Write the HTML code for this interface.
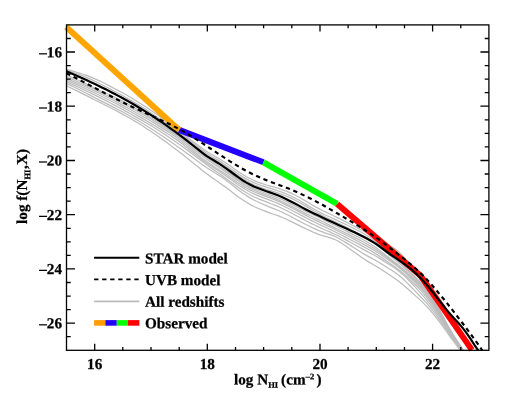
<!DOCTYPE html>
<html><head><meta charset="utf-8"><title>Chart</title>
<style>html,body{margin:0;padding:0;background:#fff;}svg{display:block;will-change:transform;}</style>
</head><body>
<svg width="525" height="400" viewBox="0 0 525 400">
<rect width="525" height="400" fill="#fff"/>
<defs><clipPath id="c"><rect x="66.5" y="24.9" width="422.4" height="325.6"/></clipPath></defs>
<g clip-path="url(#c)">
<polyline points="66.4,69.3 70.4,70.4 74.4,71.6 78.4,72.8 82.4,74.0 86.4,75.4 90.4,76.9 94.4,78.6 98.4,80.4 102.4,82.3 106.4,84.3 110.4,86.4 114.4,88.5 118.4,90.6 122.4,92.8 126.4,95.0 130.4,97.3 134.4,99.7 138.4,102.2 142.4,104.7 146.4,107.3 150.4,110.0 154.4,112.8 158.4,115.6 162.4,118.5 166.4,121.5 170.4,124.5 174.4,127.5 178.4,130.5 182.4,133.5 186.4,136.5 190.4,139.6 194.4,142.6 198.4,145.6 202.4,148.5 206.4,151.2 210.4,153.7 214.4,156.0 218.4,158.3 222.4,160.7 226.4,163.3 230.4,166.1 234.4,168.9 238.4,171.7 242.4,174.3 246.4,176.7 250.4,178.8 254.4,180.7 258.4,182.3 262.4,183.7 266.4,185.0 270.4,186.1 274.4,187.2 278.4,188.4 282.4,189.8 286.4,191.2 290.4,192.9 294.4,194.7 298.4,196.8 302.4,199.1 306.4,201.5 310.4,203.9 314.4,206.2 318.4,208.4 322.4,210.5 326.4,212.4 330.4,214.3 334.4,216.2 338.4,218.1 342.4,220.1 346.4,222.1 350.4,224.2 354.4,226.3 358.4,228.4 362.4,230.5 366.4,232.6 370.4,234.6 374.4,236.6 378.4,238.8 382.4,241.1 386.4,243.6 390.4,246.0 394.4,248.6 398.4,251.6 402.4,255.4 406.4,260.1 410.4,265.2 414.4,270.4 418.4,275.7 422.4,281.0 426.4,286.6 430.4,292.9 434.4,299.9 438.4,307.5 442.4,315.2 446.4,322.8 450.4,330.0 454.4,336.6 458.4,342.9 462.4,348.9 463.8,351.0" fill="none" stroke="#bcbcbc" stroke-width="1.25" stroke-linejoin="round"/>
<polyline points="66.4,70.3 70.4,71.6 74.4,73.0 78.4,74.4 82.4,75.8 86.4,77.4 90.4,79.1 94.4,81.0 98.4,83.0 102.4,85.0 106.4,87.0 110.4,89.1 114.4,91.2 118.4,93.3 122.4,95.5 126.4,97.8 130.4,100.1 134.4,102.5 138.4,104.9 142.4,107.4 146.4,109.9 150.4,112.5 154.4,115.2 158.4,117.9 162.4,120.6 166.4,123.4 170.4,126.3 174.4,129.2 178.4,132.1 182.4,135.1 186.4,138.1 190.4,141.2 194.4,144.3 198.4,147.3 202.4,150.3 206.4,153.1 210.4,155.7 214.4,158.1 218.4,160.4 222.4,162.9 226.4,165.6 230.4,168.4 234.4,171.2 238.4,174.0 242.4,176.6 246.4,178.9 250.4,181.0 254.4,182.9 258.4,184.5 262.4,185.9 266.4,187.2 270.4,188.4 274.4,189.7 278.4,191.0 282.4,192.4 286.4,194.0 290.4,195.7 294.4,197.7 298.4,199.8 302.4,202.2 306.4,204.6 310.4,207.0 314.4,209.3 318.4,211.5 322.4,213.6 326.4,215.5 330.4,217.3 334.4,219.1 338.4,221.0 342.4,222.9 346.4,224.8 350.4,226.7 354.4,228.7 358.4,230.7 362.4,232.8 366.4,235.2 370.4,237.8 374.4,240.7 378.4,243.9 382.4,247.2 386.4,250.7 390.4,254.1 394.4,257.5 398.4,261.0 402.4,264.6 406.4,268.4 410.4,272.3 414.4,276.3 418.4,280.3 422.4,284.4 426.4,289.1 430.4,294.7 434.4,301.3 438.4,308.5 442.4,316.0 446.4,323.4 450.4,330.4 454.4,337.0 458.4,343.2 462.4,349.1 463.7,351.0" fill="none" stroke="#bcbcbc" stroke-width="1.25" stroke-linejoin="round"/>
<polyline points="66.4,71.3 70.4,73.0 74.4,74.7 78.4,76.5 82.4,78.3 86.4,80.1 90.4,82.0 94.4,83.8 98.4,85.7 102.4,87.7 106.4,89.7 110.4,91.7 114.4,93.8 118.4,95.9 122.4,98.1 126.4,100.3 130.4,102.6 134.4,104.9 138.4,107.3 142.4,109.7 146.4,112.2 150.4,114.7 154.4,117.3 158.4,120.0 162.4,122.7 166.4,125.5 170.4,128.3 174.4,131.2 178.4,134.1 182.4,137.1 186.4,140.0 190.4,143.1 194.4,146.1 198.4,149.2 202.4,152.1 206.4,154.8 210.4,157.3 214.4,159.7 218.4,162.0 222.4,164.5 226.4,167.2 230.4,170.0 234.4,172.9 238.4,175.8 242.4,178.4 246.4,180.9 250.4,183.1 254.4,185.0 258.4,186.7 262.4,188.2 266.4,189.5 270.4,190.7 274.4,191.9 278.4,193.2 282.4,194.7 286.4,196.2 290.4,197.9 294.4,199.9 298.4,202.0 302.4,204.3 306.4,206.6 310.4,208.9 314.4,211.2 318.4,213.4 322.4,215.5 326.4,217.6 330.4,219.6 334.4,221.5 338.4,223.4 342.4,225.3 346.4,227.3 350.4,229.2 354.4,231.2 358.4,233.2 362.4,235.3 366.4,237.6 370.4,240.2 374.4,243.0 378.4,246.0 382.4,249.2 386.4,252.6 390.4,255.9 394.4,259.2 398.4,262.5 402.4,266.1 406.4,269.8 410.4,273.6 414.4,277.5 418.4,281.5 422.4,285.6 426.4,290.3 430.4,295.9 434.4,302.4 438.4,309.5 442.4,316.8 446.4,324.0 450.4,330.9 454.4,337.3 458.4,343.4 462.4,349.4 463.5,351.0" fill="none" stroke="#bcbcbc" stroke-width="1.25" stroke-linejoin="round"/>
<polyline points="66.4,74.9 70.4,76.7 74.4,78.5 78.4,80.3 82.4,82.2 86.4,84.1 90.4,85.9 94.4,87.8 98.4,89.7 102.4,91.5 106.4,93.3 110.4,95.2 114.4,97.1 118.4,99.0 122.4,101.1 126.4,103.3 130.4,105.5 134.4,107.8 138.4,110.1 142.4,112.4 146.4,114.8 150.4,117.2 154.4,119.7 158.4,122.2 162.4,124.8 166.4,127.4 170.4,130.1 174.4,132.9 178.4,135.7 182.4,138.7 186.4,141.7 190.4,144.8 194.4,148.0 198.4,151.2 202.4,154.3 206.4,157.3 210.4,160.1 214.4,162.8 218.4,165.5 222.4,168.2 226.4,170.9 230.4,173.8 234.4,176.7 238.4,179.6 242.4,182.2 246.4,184.7 250.4,186.9 254.4,188.8 258.4,190.5 262.4,192.0 266.4,193.5 270.4,195.0 274.4,196.4 278.4,198.0 282.4,199.7 286.4,201.6 290.4,203.6 294.4,205.6 298.4,207.6 302.4,209.6 306.4,211.6 310.4,213.5 314.4,215.4 318.4,217.3 322.4,219.2 326.4,221.2 330.4,223.3 334.4,225.3 338.4,227.2 342.4,229.2 346.4,231.1 350.4,233.1 354.4,235.1 358.4,237.1 362.4,239.3 366.4,241.5 370.4,244.0 374.4,246.6 378.4,249.5 382.4,252.5 386.4,255.7 390.4,258.8 394.4,261.9 398.4,265.1 402.4,268.4 406.4,271.9 410.4,275.6 414.4,279.2 418.4,282.9 422.4,286.9 426.4,291.6 430.4,297.1 434.4,303.5 438.4,310.4 442.4,317.5 446.4,324.5 450.4,331.3 454.4,337.7 458.4,343.7 462.4,349.6 463.4,351.0" fill="none" stroke="#bcbcbc" stroke-width="1.25" stroke-linejoin="round"/>
<polyline points="66.4,76.7 70.4,78.4 74.4,80.2 78.4,82.0 82.4,83.8 86.4,85.6 90.4,87.4 94.4,89.3 98.4,91.2 102.4,93.1 106.4,95.0 110.4,97.0 114.4,98.9 118.4,101.0 122.4,103.1 126.4,105.3 130.4,107.5 134.4,109.8 138.4,112.0 142.4,114.2 146.4,116.4 150.4,118.8 154.4,121.2 158.4,123.6 162.4,126.2 166.4,128.8 170.4,131.5 174.4,134.2 178.4,137.1 182.4,140.1 186.4,143.2 190.4,146.5 194.4,149.7 198.4,153.0 202.4,156.1 206.4,159.1 210.4,161.8 214.4,164.5 218.4,167.0 222.4,169.7 226.4,172.5 230.4,175.3 234.4,178.2 238.4,181.1 242.4,183.7 246.4,186.2 250.4,188.4 254.4,190.3 258.4,192.0 262.4,193.6 266.4,195.1 270.4,196.6 274.4,198.2 278.4,199.9 282.4,201.7 286.4,203.7 290.4,205.7 294.4,207.8 298.4,209.9 302.4,211.9 306.4,213.9 310.4,215.8 314.4,217.7 318.4,219.6 322.4,221.5 326.4,223.5 330.4,225.6 334.4,227.6 338.4,229.5 342.4,231.5 346.4,233.4 350.4,235.4 354.4,237.4 358.4,239.4 362.4,241.5 366.4,243.7 370.4,246.0 374.4,248.5 378.4,251.2 382.4,254.1 386.4,257.1 390.4,260.0 394.4,263.0 398.4,266.0 402.4,269.3 406.4,272.9 410.4,276.6 414.4,280.3 418.4,284.2 422.4,288.3 426.4,293.2 430.4,298.7 434.4,304.9 438.4,311.5 442.4,318.4 446.4,325.2 450.4,331.8 454.4,338.1 458.4,344.1 462.4,349.9 463.1,351.0" fill="none" stroke="#bcbcbc" stroke-width="1.25" stroke-linejoin="round"/>
<polyline points="66.4,78.4 70.4,80.1 74.4,81.8 78.4,83.6 82.4,85.4 86.4,87.2 90.4,89.0 94.4,90.9 98.4,92.8 102.4,94.7 106.4,96.7 110.4,98.7 114.4,100.8 118.4,102.9 122.4,105.1 126.4,107.3 130.4,109.5 134.4,111.8 138.4,114.0 142.4,116.2 146.4,118.4 150.4,120.7 154.4,123.1 158.4,125.6 162.4,128.1 166.4,130.6 170.4,133.2 174.4,136.0 178.4,138.9 182.4,141.9 186.4,145.2 190.4,148.5 194.4,151.8 198.4,155.2 202.4,158.4 206.4,161.3 210.4,164.1 214.4,166.7 218.4,169.2 222.4,171.9 226.4,174.6 230.4,177.4 234.4,180.2 238.4,183.0 242.4,185.6 246.4,188.0 250.4,190.1 254.4,192.0 258.4,193.6 262.4,195.1 266.4,196.6 270.4,198.1 274.4,199.7 278.4,201.3 282.4,203.1 286.4,205.1 290.4,207.1 294.4,209.3 298.4,211.4 302.4,213.5 306.4,215.6 310.4,217.7 314.4,219.6 318.4,221.6 322.4,223.5 326.4,225.4 330.4,227.3 334.4,229.2 338.4,231.2 342.4,233.2 346.4,235.2 350.4,237.3 354.4,239.4 358.4,241.5 362.4,243.7 366.4,245.9 370.4,248.1 374.4,250.5 378.4,253.0 382.4,255.7 386.4,258.5 390.4,261.3 394.4,264.0 398.4,267.0 402.4,270.3 406.4,273.9 410.4,277.7 414.4,281.6 418.4,285.6 422.4,290.0 426.4,294.9 430.4,300.4 434.4,306.4 438.4,312.7 442.4,319.3 446.4,326.0 450.4,332.4 454.4,338.6 458.4,344.5 462.4,350.3 462.9,351.0" fill="none" stroke="#bcbcbc" stroke-width="1.25" stroke-linejoin="round"/>
<polyline points="66.4,80.1 70.4,81.8 74.4,83.6 78.4,85.4 82.4,87.2 86.4,89.0 90.4,90.9 94.4,92.8 98.4,94.7 102.4,96.7 106.4,98.7 110.4,100.7 114.4,102.8 118.4,104.9 122.4,107.1 126.4,109.3 130.4,111.5 134.4,113.8 138.4,116.1 142.4,118.4 146.4,120.7 150.4,123.1 154.4,125.5 158.4,127.9 162.4,130.4 166.4,133.0 170.4,135.6 174.4,138.3 178.4,141.1 182.4,144.1 186.4,147.2 190.4,150.4 194.4,153.6 198.4,156.8 202.4,159.9 206.4,162.9 210.4,165.6 214.4,168.3 218.4,170.8 222.4,173.5 226.4,176.3 230.4,179.1 234.4,182.0 238.4,184.9 242.4,187.5 246.4,190.0 250.4,192.2 254.4,194.1 258.4,195.8 262.4,197.4 266.4,198.9 270.4,200.4 274.4,202.0 278.4,203.7 282.4,205.5 286.4,207.5 290.4,209.5 294.4,211.7 298.4,213.8 302.4,215.9 306.4,218.0 310.4,220.1 314.4,222.0 318.4,224.0 322.4,225.9 326.4,227.8 330.4,229.6 334.4,231.5 338.4,233.5 342.4,235.5 346.4,237.6 350.4,239.7 354.4,241.8 358.4,243.9 362.4,246.1 366.4,248.3 370.4,250.5 374.4,252.9 378.4,255.4 382.4,258.1 386.4,260.9 390.4,263.7 394.4,266.4 398.4,269.4 402.4,272.6 406.4,276.2 410.4,279.9 414.4,283.7 418.4,287.8 422.4,292.2 426.4,297.0 430.4,302.3 434.4,308.0 438.4,314.1 442.4,320.5 446.4,326.9 450.4,333.2 454.4,339.2 458.4,345.0 462.4,350.7 462.6,351.0" fill="none" stroke="#bcbcbc" stroke-width="1.25" stroke-linejoin="round"/>
<polyline points="66.4,81.8 70.4,83.6 74.4,85.4 78.4,87.2 82.4,89.1 86.4,91.0 90.4,92.9 94.4,94.9 98.4,96.9 102.4,98.9 106.4,100.9 110.4,103.0 114.4,105.1 118.4,107.2 122.4,109.4 126.4,111.6 130.4,113.8 134.4,116.1 138.4,118.4 142.4,120.6 146.4,123.0 150.4,125.3 154.4,127.8 158.4,130.3 162.4,132.9 166.4,135.6 170.4,138.3 174.4,141.0 178.4,143.8 182.4,146.6 186.4,149.5 190.4,152.4 194.4,155.4 198.4,158.4 202.4,161.5 206.4,164.5 210.4,167.4 214.4,170.3 218.4,173.0 222.4,175.8 226.4,178.7 230.4,181.7 234.4,184.6 238.4,187.5 242.4,190.3 246.4,192.8 250.4,195.0 254.4,197.0 258.4,198.8 262.4,200.4 266.4,201.9 270.4,203.5 274.4,205.1 278.4,206.7 282.4,208.5 286.4,210.5 290.4,212.5 294.4,214.7 298.4,216.8 302.4,218.9 306.4,221.0 310.4,223.1 314.4,225.0 318.4,226.9 322.4,228.7 326.4,230.5 330.4,232.2 334.4,234.0 338.4,235.9 342.4,238.0 346.4,240.1 350.4,242.3 354.4,244.5 358.4,246.7 362.4,248.9 366.4,251.1 370.4,253.2 374.4,255.3 378.4,257.6 382.4,260.1 386.4,262.7 390.4,265.2 394.4,267.8 398.4,270.7 402.4,274.0 406.4,277.9 410.4,282.0 414.4,286.2 418.4,290.6 422.4,295.1 426.4,299.8 430.4,304.8 434.4,310.2 438.4,316.0 442.4,322.0 446.4,328.2 450.4,334.2 454.4,340.1 458.4,345.8 462.2,351.0" fill="none" stroke="#bcbcbc" stroke-width="1.25" stroke-linejoin="round"/>
<polyline points="66.4,83.5 70.4,85.4 74.4,87.3 78.4,89.3 82.4,91.3 86.4,93.3 90.4,95.4 94.4,97.5 98.4,99.6 102.4,101.6 106.4,103.6 110.4,105.6 114.4,107.6 118.4,109.7 122.4,111.8 126.4,114.0 130.4,116.2 134.4,118.5 138.4,120.8 142.4,123.2 146.4,125.7 150.4,128.2 154.4,130.8 158.4,133.4 162.4,136.0 166.4,138.8 170.4,141.5 174.4,144.3 178.4,147.2 182.4,150.0 186.4,152.9 190.4,155.8 194.4,158.8 198.4,161.8 202.4,164.7 206.4,167.5 210.4,170.0 214.4,172.5 218.4,175.0 222.4,177.6 226.4,180.5 230.4,183.6 234.4,186.8 238.4,189.9 242.4,192.9 246.4,195.6 250.4,198.1 254.4,200.3 258.4,202.2 262.4,204.0 266.4,205.7 270.4,207.3 274.4,208.8 278.4,210.5 282.4,212.3 286.4,214.3 290.4,216.3 294.4,218.5 298.4,220.6 302.4,222.7 306.4,224.7 310.4,226.7 314.4,228.6 318.4,230.4 322.4,231.9 326.4,233.3 330.4,234.6 334.4,236.2 338.4,238.2 342.4,240.5 346.4,242.9 350.4,245.4 354.4,248.0 358.4,250.5 362.4,253.1 366.4,255.4 370.4,257.6 374.4,259.8 378.4,262.0 382.4,264.5 386.4,267.0 390.4,269.5 394.4,272.1 398.4,274.9 402.4,278.3 406.4,282.1 410.4,286.2 414.4,290.4 418.4,294.5 422.4,298.6 426.4,302.9 430.4,307.6 434.4,312.6 438.4,318.1 442.4,323.8 446.4,329.7 450.4,335.5 454.4,341.2 458.4,346.7 461.6,351.0" fill="none" stroke="#bcbcbc" stroke-width="1.25" stroke-linejoin="round"/>
<polyline points="66.4,85.8 70.4,87.7 74.4,89.6 78.4,91.6 82.4,93.6 86.4,95.6 90.4,97.6 94.4,99.7 98.4,101.8 102.4,103.8 106.4,105.8 110.4,107.8 114.4,109.8 118.4,111.9 122.4,114.1 126.4,116.2 130.4,118.5 134.4,120.9 138.4,123.3 142.4,125.8 146.4,128.5 150.4,131.1 154.4,133.8 158.4,136.6 162.4,139.4 166.4,142.3 170.4,145.2 174.4,148.2 178.4,151.3 182.4,154.3 186.4,157.5 190.4,160.7 194.4,163.9 198.4,167.1 202.4,170.4 206.4,173.5 210.4,176.4 214.4,179.3 218.4,182.0 222.4,184.9 226.4,187.8 230.4,190.8 234.4,193.9 238.4,196.9 242.4,199.7 246.4,202.3 250.4,204.6 254.4,206.7 258.4,208.5 262.4,210.2 266.4,211.7 270.4,213.1 274.4,214.5 278.4,215.9 282.4,217.5 286.4,219.3 290.4,221.1 294.4,223.1 298.4,225.1 302.4,227.1 306.4,229.0 310.4,230.9 314.4,232.7 318.4,234.3 322.4,235.7 326.4,236.7 330.4,237.8 334.4,239.3 338.4,241.3 342.4,243.8 346.4,246.5 350.4,249.4 354.4,252.2 358.4,255.1 362.4,257.9 366.4,260.6 370.4,262.9 374.4,265.2 378.4,267.6 382.4,270.2 386.4,272.8 390.4,275.5 394.4,278.2 398.4,281.0 402.4,284.2 406.4,287.7 410.4,291.3 414.4,294.9 418.4,298.4 422.4,302.1 426.4,306.1 430.4,310.5 434.4,315.3 438.4,320.4 442.4,325.9 446.4,331.5 450.4,337.1 454.4,342.5 458.4,347.8 460.8,351.0" fill="none" stroke="#bcbcbc" stroke-width="1.25" stroke-linejoin="round"/>
</g>
<polyline points="66.2,27.0 179.1,129.9" fill="none" stroke="#ffa500" stroke-width="6.0"/>
<polyline points="179.1,129.9 263.5,162.3" fill="none" stroke="#2400ff" stroke-width="6.0"/>
<polyline points="263.5,162.3 337.2,203.9" fill="none" stroke="#00ff00" stroke-width="6.0"/>
<polyline points="337.2,203.9 420.6,275.7 471.9,349.9" fill="none" stroke="#ff0000" stroke-width="6.0"/>
<polyline points="177.1,128.1 179.1,129.9" fill="none" stroke="#ffa500" stroke-width="6.0"/>
<g clip-path="url(#c)">
<polyline points="66.4,71.3 70.4,73.0 74.4,74.7 78.4,76.5 82.4,78.3 86.4,80.1 90.4,81.9 94.4,83.8 98.4,85.7 102.4,87.7 106.4,89.6 110.4,91.7 114.4,93.7 118.4,95.9 122.4,98.0 126.4,100.2 130.4,102.5 134.4,104.8 138.4,107.2 142.4,109.6 146.4,112.1 150.4,114.7 154.4,117.3 158.4,120.0 162.4,122.7 166.4,125.4 170.4,128.3 174.4,131.2 178.4,134.1 182.4,137.1 186.4,140.2 190.4,143.3 194.4,146.5 198.4,149.7 202.4,152.8 206.4,155.8 210.4,158.4 214.4,160.8 218.4,163.2 222.4,165.8 226.4,168.6 230.4,171.5 234.4,174.5 238.4,177.4 242.4,180.2 246.4,182.6 250.4,184.8 254.4,186.7 258.4,188.3 262.4,189.8 266.4,191.2 270.4,192.6 274.4,194.0 278.4,195.6 282.4,197.3 286.4,199.2 290.4,201.2 294.4,203.3 298.4,205.4 302.4,207.6 306.4,209.7 310.4,211.7 314.4,213.7 318.4,215.6 322.4,217.5 326.4,219.4 330.4,221.2 334.4,223.1 338.4,224.9 342.4,226.7 346.4,228.6 350.4,230.4 354.4,232.3 358.4,234.3 362.4,236.2 366.4,238.3 370.4,240.5 374.4,242.9 378.4,245.5 382.4,248.5 386.4,251.5 390.4,254.5 394.4,257.2 398.4,259.9 402.4,262.7 406.4,265.5 410.4,268.7 414.4,272.1 418.4,275.9 422.4,280.0 426.4,284.4 430.4,289.2 434.4,294.2 438.4,299.4 442.4,304.5 446.4,309.6 450.4,314.3 454.4,318.7 458.4,323.0 462.4,327.6 466.4,332.9 470.4,338.7 474.4,344.9 478.4,350.7 478.9,351.4" fill="none" stroke="#000" stroke-width="2.2" stroke-linejoin="round"/>
<polyline points="66.4,73.2 70.4,75.2 74.4,77.3 78.4,79.3 82.4,81.4 86.4,83.5 90.4,85.6 94.4,87.7 98.4,89.8 102.4,91.9 106.4,94.0 110.4,96.0 114.4,98.1 118.4,100.1 122.4,102.1 126.4,104.1 130.4,106.0 134.4,107.9 138.4,109.7 142.4,111.6 146.4,113.4 150.4,115.2 154.4,117.0 158.4,118.8 162.4,120.7 166.4,122.6 170.4,124.5 174.4,126.6 178.4,128.7 182.4,130.9 186.4,133.2 190.4,135.6 194.4,138.1 198.4,140.6 202.4,143.2 206.4,145.9 210.4,148.5 214.4,151.2 218.4,153.8 222.4,156.4 226.4,159.0 230.4,161.6 234.4,164.0 238.4,166.4 242.4,168.7 246.4,170.9 250.4,173.0 254.4,174.9 258.4,176.8 262.4,178.6 266.4,180.2 270.4,181.8 274.4,183.3 278.4,184.8 282.4,186.3 286.4,187.8 290.4,189.3 294.4,191.0 298.4,192.7 302.4,194.6 306.4,196.5 310.4,198.5 314.4,200.5 318.4,202.7 322.4,204.8 326.4,207.1 330.4,209.4 334.4,211.7 338.4,214.0 342.4,216.4 346.4,218.7 350.4,221.1 354.4,223.5 358.4,225.9 362.4,228.4 366.4,231.0 370.4,233.6 374.4,236.4 378.4,239.2 382.4,242.2 386.4,245.2 390.4,248.3 394.4,251.4 398.4,254.5 402.4,257.6 406.4,260.8 410.4,264.1 414.4,267.5 418.4,271.1 422.4,275.0 426.4,279.1 430.4,283.4 434.4,288.0 438.4,292.7 442.4,297.5 446.4,302.4 450.4,307.5 454.4,312.6 458.4,317.8 462.4,323.0 466.4,328.3 470.4,333.7 474.4,339.1 478.4,344.7 482.4,350.5 482.6,350.8" fill="none" stroke="#000" stroke-width="2.15" stroke-dasharray="4.3 3.7"/>
</g>
<rect x="66.5" y="24.9" width="422.4" height="325.4" fill="none" stroke="#000" stroke-width="1.3"/>
<path d="M94.7 350.3 v-6.6 M94.7 24.9 v6.6 M122.8 350.3 v-3.3 M122.8 24.9 v3.3 M151.0 350.3 v-3.3 M151.0 24.9 v3.3 M179.2 350.3 v-3.3 M179.2 24.9 v3.3 M207.3 350.3 v-6.6 M207.3 24.9 v6.6 M235.5 350.3 v-3.3 M235.5 24.9 v3.3 M263.6 350.3 v-3.3 M263.6 24.9 v3.3 M291.8 350.3 v-3.3 M291.8 24.9 v3.3 M320.0 350.3 v-6.6 M320.0 24.9 v6.6 M348.1 350.3 v-3.3 M348.1 24.9 v3.3 M376.3 350.3 v-3.3 M376.3 24.9 v3.3 M404.5 350.3 v-3.3 M404.5 24.9 v3.3 M432.6 350.3 v-6.6 M432.6 24.9 v6.6 M460.8 350.3 v-3.3 M460.8 24.9 v3.3 M66.5 336.7 h4.2 M488.9 336.7 h-4.2 M66.5 323.2 h8.5 M488.9 323.2 h-8.5 M66.5 309.6 h4.2 M488.9 309.6 h-4.2 M66.5 296.1 h4.2 M488.9 296.1 h-4.2 M66.5 282.5 h4.2 M488.9 282.5 h-4.2 M66.5 268.9 h8.5 M488.9 268.9 h-8.5 M66.5 255.4 h4.2 M488.9 255.4 h-4.2 M66.5 241.8 h4.2 M488.9 241.8 h-4.2 M66.5 228.3 h4.2 M488.9 228.3 h-4.2 M66.5 214.7 h8.5 M488.9 214.7 h-8.5 M66.5 201.2 h4.2 M488.9 201.2 h-4.2 M66.5 187.6 h4.2 M488.9 187.6 h-4.2 M66.5 174.0 h4.2 M488.9 174.0 h-4.2 M66.5 160.5 h8.5 M488.9 160.5 h-8.5 M66.5 146.9 h4.2 M488.9 146.9 h-4.2 M66.5 133.4 h4.2 M488.9 133.4 h-4.2 M66.5 119.8 h4.2 M488.9 119.8 h-4.2 M66.5 106.2 h8.5 M488.9 106.2 h-8.5 M66.5 92.7 h4.2 M488.9 92.7 h-4.2 M66.5 79.1 h4.2 M488.9 79.1 h-4.2 M66.5 65.6 h4.2 M488.9 65.6 h-4.2 M66.5 52.0 h8.5 M488.9 52.0 h-8.5 M66.5 38.5 h4.2 M488.9 38.5 h-4.2" stroke="#000" stroke-width="1.3" fill="none"/>
<g font-family="'Liberation Serif', serif" font-weight="bold" font-size="15.2" fill="#000" stroke="#000" stroke-width="0.25">
<text transform="translate(94.7,368.9) rotate(0.03)" text-anchor="middle">16</text>
<text transform="translate(207.3,368.9) rotate(0.03)" text-anchor="middle">18</text>
<text transform="translate(320.0,368.9) rotate(0.03)" text-anchor="middle">20</text>
<text transform="translate(432.6,368.9) rotate(0.03)" text-anchor="middle">22</text>
<text transform="translate(62.0,57.2) rotate(0.03)" text-anchor="end">–16</text>
<text transform="translate(62.0,111.4) rotate(0.03)" text-anchor="end">–18</text>
<text transform="translate(62.0,165.6) rotate(0.03)" text-anchor="end">–20</text>
<text transform="translate(62.0,219.9) rotate(0.03)" text-anchor="end">–22</text>
<text transform="translate(62.0,274.1) rotate(0.03)" text-anchor="end">–24</text>
<text transform="translate(62.0,328.3) rotate(0.03)" text-anchor="end">–26</text>
<text transform="translate(234.0,384.5) rotate(0.03)">log N<tspan font-size="8.5" dy="3.2">HI</tspan><tspan dy="-3.2" dx="-0.8"> (cm</tspan><tspan font-size="8.5" dy="-5.4" dx="0.3">–2</tspan><tspan dy="5.4" dx="2.2">)</tspan></text>
<text transform="translate(27,223.9) rotate(-89.97)">log f(N<tspan font-size="8.5" dy="3.2">HI</tspan><tspan dy="-3.2" dx="0.8">,X)</tspan></text>
<text transform="translate(145,263.5) rotate(0.03)">STAR model</text>
<text transform="translate(145,285.1) rotate(0.03)">UVB model</text>
<text transform="translate(145,306.7) rotate(0.03)">All redshifts</text>
<text transform="translate(145,328.3) rotate(0.03)">Observed</text>
</g>
<path d="M94.1 257.8H139.3" stroke="#000" stroke-width="1.9"/>
<path d="M94.1 279.4H139.3" stroke="#000" stroke-width="1.7" stroke-dasharray="4.3 3.75"/>
<path d="M94.1 301.3H139.3" stroke="#bbbbbb" stroke-width="1.7"/>
<rect x="94.1" y="320.1" width="11.4" height="5.6" fill="#ff9c00"/>
<rect x="105.4" y="320.1" width="11.4" height="5.6" fill="#2200ff"/>
<rect x="116.7" y="320.1" width="11.4" height="5.6" fill="#00ff00"/>
<rect x="128.0" y="320.1" width="11.4" height="5.6" fill="#ff0000"/>
</svg>
</body></html>
